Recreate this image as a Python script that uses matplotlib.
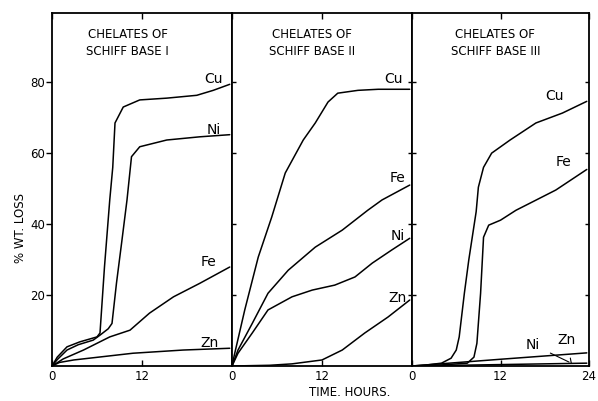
import matplotlib
matplotlib.use("Agg")
import matplotlib.pyplot as plt

# panel 1: chelates of Schiff base I
p1_cu_t = [0, 0.7, 2, 3.7, 6, 6.4, 7.0, 7.7, 8.1, 8.4, 9.5, 11.7, 15.3, 19.3, 21.5, 23.7]
p1_cu_y = [0, 2.5, 5.4, 6.8, 8.2, 9.3, 28, 46.8, 56, 68.5, 73, 75, 75.5, 76.3, 77.7, 79.4]
p1_ni_t = [0, 0.7, 2, 3.5, 5.5, 6.4, 7.5, 8.0, 8.6, 9.3, 10.0, 10.6, 11.7, 15.3, 19.7, 23.7]
p1_ni_y = [0, 1.8, 4.5, 6.0, 7.3, 8.7, 10.5, 12, 23.4, 35, 46.8, 59, 61.8, 63.7, 64.6, 65.2]
p1_fe_t = [0, 1.5, 4.2, 7.7, 10.4, 13, 16.2, 19.7, 23.7]
p1_fe_y = [0, 2, 4.5, 8.2, 10.1, 14.9, 19.5, 23.3, 27.9]
p1_zn_t = [0, 1, 2.9, 10.8, 17.5, 23.7]
p1_zn_y = [0, 1, 1.7, 3.6, 4.5, 5.0]

# panel 2: chelates of Schiff base II
p2_cu_t = [0, 0.3, 1.7, 3.5, 5.3, 7.1, 9.5, 11.1, 12.8, 14.1, 16.8, 19.5, 23.7]
p2_cu_y = [0, 3, 15.8, 30.7, 42, 54.4, 63.7, 68.5, 74.4, 76.9, 77.7, 78, 78]
p2_fe_t = [0, 0.8, 2.7, 4.8, 7.5, 11.1, 14.7, 18.1, 20, 23.7]
p2_fe_y = [0, 4.5, 12, 20.5, 27, 33.5, 38.3, 43.9, 46.8, 51]
p2_ni_t = [0, 0.8, 2.7, 4.8, 8, 10.7, 13.7, 16.4, 18.7, 21.3, 23.7]
p2_ni_y = [0, 3.6, 9.3, 15.8, 19.5, 21.4, 22.8, 25.1, 29, 32.7, 36]
p2_zn_t = [0, 5, 8, 12, 14.7, 17.7, 20.8, 23.7]
p2_zn_y = [0, 0.2, 0.6, 1.7, 4.5, 9.3, 13.8, 18.6]

# panel 3: chelates of Schiff base III
p3_cu_t = [0, 2, 4, 5.3, 6, 6.4, 7.1, 7.7, 8.7, 9.0, 9.7, 10.8, 13.3, 16.8, 20.4, 23.7]
p3_cu_y = [0, 0.3, 0.8, 2.2, 4.5, 8.2, 20.5, 29.9, 43.5, 50.4, 56, 60, 63.7, 68.5, 71.3, 74.6]
p3_fe_t = [0, 4, 7.5, 8.4, 8.8, 9.3, 9.7, 10.4, 12, 14.1, 16, 19.5, 23.7]
p3_fe_y = [0, 0.3, 0.8, 2.5, 6.4, 20.5, 36.3, 39.7, 41.1, 43.9, 45.9, 49.6, 55.4]
p3_ni_t = [0, 12, 23.7]
p3_ni_y = [0, 1.9, 3.7]
p3_zn_t = [0, 12, 23.7]
p3_zn_y = [0, 0.4, 0.8]

panels = [
    {"title": "CHELATES OF\nSCHIFF BASE I", "tx": 10.1,
     "curves": [(p1_cu_t, p1_cu_y), (p1_ni_t, p1_ni_y), (p1_fe_t, p1_fe_y), (p1_zn_t, p1_zn_y)],
     "labels": [("Cu", 21.5, 81), ("Ni", 21.5, 66.5), ("Fe", 20.9, 29.3), ("Zn", 21.0, 6.5)],
     "xticks": [0, 12]},
    {"title": "CHELATES OF\nSCHIFF BASE II", "tx": 10.7,
     "curves": [(p2_cu_t, p2_cu_y), (p2_fe_t, p2_fe_y), (p2_ni_t, p2_ni_y), (p2_zn_t, p2_zn_y)],
     "labels": [("Cu", 21.5, 81), ("Fe", 22.1, 53), ("Ni", 22.1, 36.6), ("Zn", 22.1, 19.2)],
     "xticks": [0, 12]},
    {"title": "CHELATES OF\nSCHIFF BASE III", "tx": 11.3,
     "curves": [(p3_cu_t, p3_cu_y), (p3_fe_t, p3_fe_y), (p3_ni_t, p3_ni_y), (p3_zn_t, p3_zn_y)],
     "labels": [("Cu", 19.3, 76), ("Fe", 20.6, 57.5)],
     "xticks": [0, 12, 24]},
]

fig = plt.figure(figsize=(5.98, 4.01), dpi=100)
lefts = [52, 232, 412]
widths = [180, 180, 177]
bottom = 1 - 366 / 401
height = (366 - 13) / 401

for i, p in enumerate(panels):
    ax = fig.add_axes([lefts[i] / 598, bottom, widths[i] / 598, height])
    for t, y in p["curves"]:
        ax.plot(t, y, color="black", lw=1.1, solid_capstyle="round")
    ax.set_xlim(0, 24)
    ax.set_ylim(0, 99.5)
    ax.set_xticks(p["xticks"])
    ax.set_yticks([20, 40, 60, 80])
    ax.tick_params(axis="x", direction="in", top=True, length=4, width=1,
                   labelsize=8.5, pad=3)
    ax.tick_params(axis="y", direction="in", right=True, length=3, width=1,
                   labelleft=(i == 0), labelsize=8.5, pad=1)
    if i == 0:
        ax.tick_params(axis="y", which="both", left=True, direction="out", length=4)
    for s in ax.spines.values():
        s.set_linewidth(1.3)
    ax.text(p["tx"], 91, p["title"], ha="center", va="center", fontsize=8.5,
            linespacing=1.45)
    for name, x, y in p["labels"]:
        ax.text(x, y, name, ha="center", va="center", fontsize=10)
    if i == 2:
        ax.annotate("Ni", xy=(21.3, 1.1), xytext=(16.4, 6.0), ha="center", va="center",
                    fontsize=10, arrowprops=dict(arrowstyle="-", color="black", lw=0.8,
                                                 shrinkA=6, shrinkB=0))
        ax.annotate("Zn", xy=(21.6, 0.8), xytext=(21.0, 7.3), ha="center", va="center",
                    fontsize=10, arrowprops=dict(arrowstyle="-", color="black", lw=0.8,
                                                 shrinkA=6, shrinkB=0))

fig.text(20 / 598, 1 - 228 / 401, "% WT. LOSS", rotation=90, ha="center", va="center",
         fontsize=8.5)
fig.text(350 / 598, 1 - 393 / 401, "TIME. HOURS.", ha="center", va="center", fontsize=8.5)

fig.savefig("out.png", dpi=100)
